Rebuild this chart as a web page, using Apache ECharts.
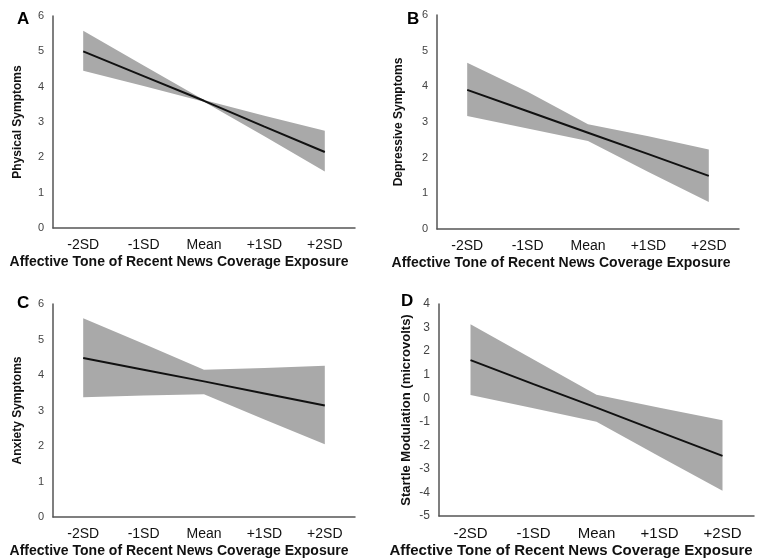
<!DOCTYPE html>
<html>
<head>
<meta charset="utf-8">
<script src="https://cdn.jsdelivr.net/npm/echarts@6/dist/echarts.min.js"></script>
<style>
html,body{margin:0;padding:0;background:#fff;}
#c{width:760px;height:560px;}
</style>
</head>
<body>
<div id="c"></div>
<script>
// Categories (x-axis)
const categories = ['-2SD', '-1SD', 'Mean', '+1SD', '+2SD'];
const xTitle = 'Affective Tone of Recent News Coverage Exposure';

// Panel A: Physical Symptoms
const aLine  = [5.0, 4.3, 3.6, 2.87, 2.15];
const aUpper = [5.58, 4.6, 3.62, 3.18, 2.75];
const aLower = [4.45, 4.02, 3.57, 2.6, 1.6];

// Panel B: Depressive Symptoms
const bLine  = [3.9, 3.3, 2.7, 2.1, 1.49];
const bUpper = [4.66, 3.85, 2.94, 2.6, 2.23];
const bLower = [3.17, 2.82, 2.47, 1.6, 0.76];

// Panel C: Anxiety Symptoms
const cLine  = [4.48, 4.15, 3.82, 3.48, 3.14];
const cUpper = [5.6, 4.88, 4.15, 4.2, 4.26];
const cLower = [3.37, 3.42, 3.46, 2.75, 2.05];

// Panel D: Startle Modulation
const dLine  = [1.62, 0.6, -0.4, -1.43, -2.45];
const dUpper = [3.14, 1.64, 0.15, -0.4, -0.93];
const dLower = [0.14, -0.43, -1.0, -2.47, -3.93];

const panels = [
  {letter:'A', yName:'Physical Symptoms', line:aLine, upper:aUpper, lower:aLower, min:0, max:6,
   grid:{left:53, width:302, top:16, height:212}, yGap:29, xPad:50, lx:12, ly:6, fs:14, yfs:12, tfs:11},
  {letter:'B', yName:'Depressive Symptoms', line:bLine, upper:bUpper, lower:bLower, min:0, max:6,
   grid:{left:437, width:302, top:15, height:214}, yGap:32, xPad:54, lx:402, ly:6, fs:14, yfs:12, tfs:11},
  {letter:'C', yName:'Anxiety Symptoms', line:cLine, upper:cUpper, lower:cLower, min:0, max:6,
   grid:{left:53, width:302, top:304, height:213}, yGap:29, xPad:50, lx:12, ly:290, fs:14, yfs:12, tfs:11},
  {letter:'D', yName:'Startle Modulation (microvolts)', line:dLine, upper:dUpper, lower:dLower, min:-5, max:4,
   grid:{left:439, width:315, top:304, height:212}, yGap:26, xPad:51, lx:396, ly:288, fs:15, yfs:13, tfs:12}
];

const FONT = '"Liberation Sans", Arial, sans-serif';
const option = {
  backgroundColor:'#ffffff',
  animation:false,
  textStyle:{fontFamily:FONT},
  grid:[], xAxis:[], yAxis:[], series:[], title:[]
};

panels.forEach((p, i) => {
  option.grid.push(p.grid);
  option.title.push({text:p.letter, left:p.lx, top:p.ly,
    textStyle:{fontFamily:FONT, fontSize:17, fontWeight:'bold', color:'#000'}});
  option.xAxis.push({
    type:'category', gridIndex:i, data:categories, boundaryGap:true,
    axisLine:{onZero:false, lineStyle:{color:'#555', width:1.5}},
    axisTick:{show:false},
    axisLabel:{fontSize:p.fs, color:'#111', margin:10, fontFamily:FONT},
    name:xTitle, nameLocation:'middle', nameGap:27,
    nameTextStyle:{fontSize:p.fs, fontWeight:'bold', color:'#111', fontFamily:FONT, padding:[0, p.xPad, 0, 0]},
    splitLine:{show:false}
  });
  option.yAxis.push({
    type:'value', gridIndex:i, min:p.min, max:p.max, interval:1,
    axisLine:{show:true, onZero:false, lineStyle:{color:'#555', width:1.5}},
    axisTick:{show:false},
    axisLabel:{fontSize:p.tfs, color:'#444', margin:9, fontFamily:FONT},
    splitLine:{show:false},
    name:p.yName, nameLocation:'middle', nameGap:p.yGap, nameRotate:90,
    nameTextStyle:{fontSize:p.yfs, fontWeight:'bold', color:'#111', fontFamily:FONT}
  });
  const diff = p.upper.map((u, k) => +(u - p.lower[k]).toFixed(3));
  option.series.push({
    type:'line', xAxisIndex:i, yAxisIndex:i, data:p.lower, stack:'band'+i, stackStrategy:'all',
    symbol:'none', lineStyle:{opacity:0}, areaStyle:{opacity:0}, silent:true, z:1
  });
  option.series.push({
    type:'line', xAxisIndex:i, yAxisIndex:i, data:diff, stack:'band'+i, stackStrategy:'all',
    symbol:'none', lineStyle:{opacity:0}, areaStyle:{color:'#a9a9a9', opacity:1}, silent:true, z:2
  });
  option.series.push({
    type:'line', xAxisIndex:i, yAxisIndex:i, data:p.line,
    symbol:'none', lineStyle:{color:'#111', width:2}, z:3
  });
});

const chart = echarts.init(document.getElementById('c'), null, {renderer:'canvas'});
chart.setOption(option);
</script>
</body>
</html>
